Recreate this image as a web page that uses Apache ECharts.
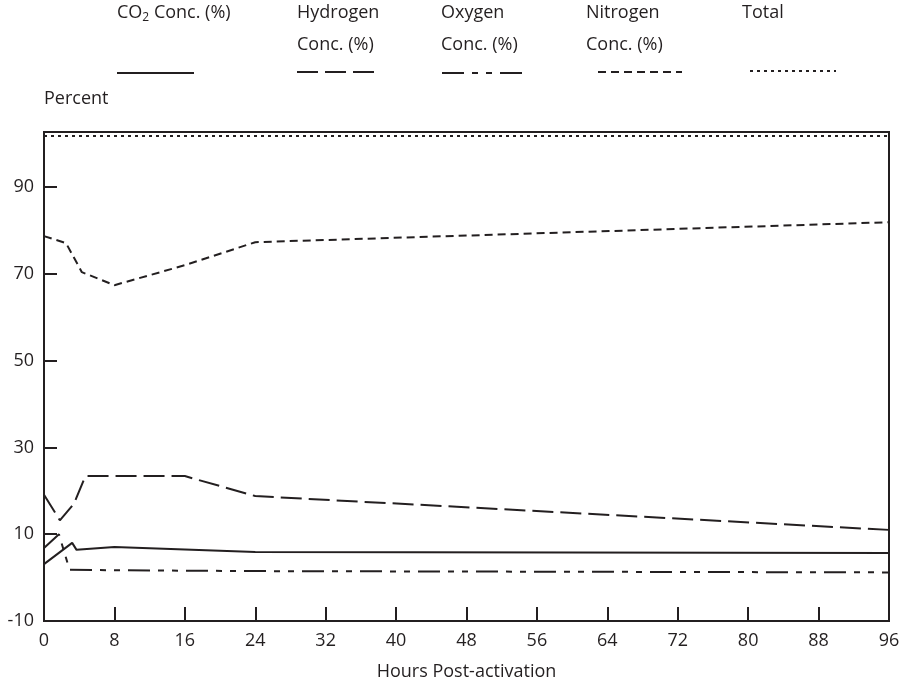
<!DOCTYPE html>
<html>
<head>
<meta charset="utf-8">
<script src="https://cdn.jsdelivr.net/npm/echarts@6/dist/echarts.min.js"></script>
<style>
  html, body { margin: 0; padding: 0; background: #fff; }
  #chart { width: 915px; height: 689px; }
</style>
</head>
<body>
<div id="chart"></div>
<script>
// Gas concentrations after activation
const co2Hours = [0, 3.2, 3.7, 8, 24, 96];
const co2Values = [3.1, 8.0, 6.4, 7.05, 5.9, 5.7];

const hydrogenHours = [0, 1.8, 3.4, 4.7, 16, 24, 96];
const hydrogenValues = [19.1, 13.2, 17.0, 23.4, 23.4, 18.8, 11.0];

const oxygenHours = [0, 1.7, 2.9, 8, 24, 96];
const oxygenValues = [6.8, 10.0, 1.8, 1.7, 1.5, 1.2];

const nitrogenHours = [0, 2.5, 4.3, 8, 16, 24, 96];
const nitrogenValues = [78.7, 77.1, 70.4, 67.4, 72.0, 77.3, 81.9];

const totalHours = [0, 96];
const totalValues = [101.8, 101.8];

const ink = '#231f20';
const font = 'Open Sans';
const fs = 18;

// dash patterns shared by series + legend samples
const dashes = {
  co2: 'solid',
  hydrogen: [21, 7],
  oxygen: [22, 8, 6, 8, 6, 8],
  nitrogen: [8, 5],
  total: [3, 4]
};

function pairs(xs, ys) {
  return xs.map((x, i) => [x, ys[i]]);
}

function lineSeries(name, xs, ys, dash) {
  return {
    name: name,
    type: 'line',
    data: pairs(xs, ys),
    showSymbol: false,
    symbol: 'none',
    lineStyle: { color: ink, width: 2, type: dash },
    emphasis: { disabled: true }
  };
}

// custom legend: text above, line sample below
function legendItem(left, lines, x1, x2, y, dash) {
  return [{
    type: 'text',
    left: left,
    top: -3,
    style: {
      text: lines,
      fill: ink,
      font: fs + 'px "' + font + '"',
      lineHeight: 32,
      rich: {
        n: { fontSize: fs, fontFamily: font, fill: ink },
        s: { fontSize: 12, fontFamily: font, fill: ink, padding: [10, 0, 0, 0] }
      }
    }
  }, {
    type: 'line',
    shape: { x1: x1, y1: y, x2: x2, y2: y },
    style: {
      stroke: ink,
      lineWidth: 2,
      lineDash: dash === 'solid' ? null : dash
    }
  }];
}

const chart = echarts.init(document.getElementById('chart'));

chart.setOption({
  animation: false,
  backgroundColor: '#fff',
  textStyle: { fontFamily: font, color: ink },
  grid: {
    left: 44,
    right: 26,
    top: 132,
    bottom: 68,
    show: true,
    borderColor: ink,
    borderWidth: 2
  },
  xAxis: {
    type: 'value',
    min: 0,
    max: 96,
    interval: 8,
    name: 'Hours Post-activation',
    nameLocation: 'middle',
    nameGap: 42,
    nameTextStyle: { fontSize: fs, color: ink, fontFamily: font },
    axisLine: { onZero: false, lineStyle: { color: ink, width: 2 } },
    axisTick: { inside: true, length: 14, lineStyle: { color: ink, width: 2 } },
    axisLabel: { fontSize: fs, color: ink, margin: 11, fontFamily: font },
    splitLine: { show: false }
  },
  yAxis: {
    type: 'value',
    min: -10,
    max: 102.7,
    interval: 20,
    name: 'Percent',
    nameLocation: 'end',
    nameGap: 24,
    nameTextStyle: { fontSize: fs, color: ink, fontFamily: font, align: 'left' },
    axisLine: { show: true, onZero: false, lineStyle: { color: ink, width: 2 } },
    axisTick: { show: true, inside: true, length: 13, lineStyle: { color: ink, width: 2 } },
    axisLabel: { fontSize: fs, color: ink, margin: 10, fontFamily: font, showMaxLabel: false },
    splitLine: { show: false }
  },
  series: [
    lineSeries('CO2 Conc. (%)', co2Hours, co2Values, dashes.co2),
    lineSeries('Hydrogen Conc. (%)', hydrogenHours, hydrogenValues, dashes.hydrogen),
    lineSeries('Oxygen Conc. (%)', oxygenHours, oxygenValues, dashes.oxygen),
    lineSeries('Nitrogen Conc. (%)', nitrogenHours, nitrogenValues, dashes.nitrogen),
    lineSeries('Total', totalHours, totalValues, dashes.total)
  ],
  graphic: [].concat(
    legendItem(117, '{n|CO}{s|2}{n| Conc. (%)}', 117, 194, 73, dashes.co2),
    legendItem(297, 'Hydrogen\nConc. (%)', 297, 377, 72, dashes.hydrogen),
    legendItem(441, 'Oxygen\nConc. (%)', 442, 528, 73, dashes.oxygen),
    legendItem(586, 'Nitrogen\nConc. (%)', 598, 682, 72, dashes.nitrogen),
    legendItem(742, 'Total', 750, 836, 71, dashes.total)
  )
});
</script>
</body>
</html>
